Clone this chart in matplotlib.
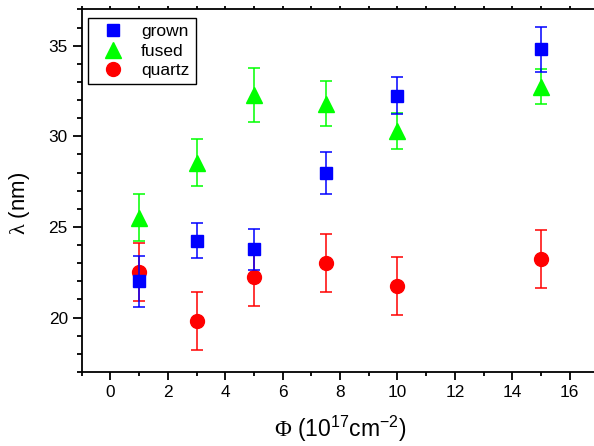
import matplotlib
matplotlib.use("Agg")
import matplotlib.pyplot as plt
from matplotlib.ticker import MultipleLocator
from matplotlib.lines import Line2D

x = [1, 3, 5, 7.5, 10, 15]
grown = [22.0, 24.25, 23.77, 28.0, 32.25, 34.8]
grown_err = [1.4, 0.97, 1.12, 1.16, 1.0, 1.25]
fused = [25.5, 28.55, 32.28, 31.8, 30.3, 32.75]
fused_err = [1.3, 1.3, 1.5, 1.25, 1.0, 0.95]
quartz = [22.5, 19.83, 22.24, 23.0, 21.74, 23.24]
quartz_err = [1.6, 1.6, 1.6, 1.6, 1.6, 1.6]

plt.rcParams['font.family'] = ['Liberation Sans', 'DejaVu Sans']
plt.rcParams['mathtext.fontset'] = 'custom'
plt.rcParams['mathtext.rm'] = 'Liberation Serif'
plt.rcParams['mathtext.sf'] = 'Liberation Sans'

fig = plt.figure(figsize=(5.94, 4.46), dpi=100)
ax = fig.add_axes([0.1375, 0.166, 0.870, 0.8127])

styles = [
    ('quartz', quartz, quartz_err, 'o', '#ff0000', 10, 3),
    ('fused', fused, fused_err, '^', '#00ff00', 11.5, 4),
    ('grown', grown, grown_err, 's', '#0000ff', 8.4, 5),
]
handles = {}
for name, vals, errs, mk, col, ms, z in styles:
    ax.errorbar(x, vals, yerr=errs, fmt=mk, color=col, ms=ms,
                ecolor=col, elinewidth=1.1, capsize=4, capthick=1.1, zorder=z)
    handles[name] = Line2D([], [], linestyle='none', marker=mk, color=col, ms=ms)

ax.set_xlim(-1, 17)
ax.set_ylim(17, 37)
ax.xaxis.set_major_locator(MultipleLocator(2))
ax.xaxis.set_minor_locator(MultipleLocator(1))
ax.yaxis.set_major_locator(MultipleLocator(5))
ax.yaxis.set_minor_locator(MultipleLocator(1))

for s in ax.spines.values():
    s.set_linewidth(1.3)

ax.tick_params(axis='both', which='major', labelsize=12.4, width=1.3)
ax.tick_params(axis='y', which='major', direction='out', length=6.5, left=True, right=False)
ax.tick_params(axis='y', which='minor', direction='out', length=3.5, width=1.3, left=True, right=False)
ax.tick_params(axis='x', which='major', direction='out', length=6, top=True, bottom=True)
ax.tick_params(axis='x', which='minor', direction='out', length=3, width=1.3, top=True, bottom=True)
for t in ax.xaxis.get_major_ticks() + ax.xaxis.get_minor_ticks():
    t.tick2line.set_markersize(2)

ax.set_ylabel(r'$\mathrm{\lambda}$ (nm)', fontsize=16)
ax.yaxis.set_label_coords(-0.097, 0.465)
ax.set_xlabel(r'$\mathrm{\Phi}$ (10$^{\mathsf{17}}$cm$^{\mathsf{-2}}$)', fontsize=16.5, labelpad=10)

order = ['grown', 'fused', 'quartz']
leg = ax.legend([handles[n] for n in order], order, loc='upper left',
                bbox_to_anchor=(0.0128, 0.976), borderaxespad=0, fontsize=12.5,
                frameon=True, fancybox=False, shadow=False, edgecolor='black',
                framealpha=1, handletextpad=0.6, labelspacing=0.25,
                borderpad=0.35, handlelength=2.1)
leg.get_frame().set_linewidth(1.0)

fig.savefig('out.png', dpi=100)
